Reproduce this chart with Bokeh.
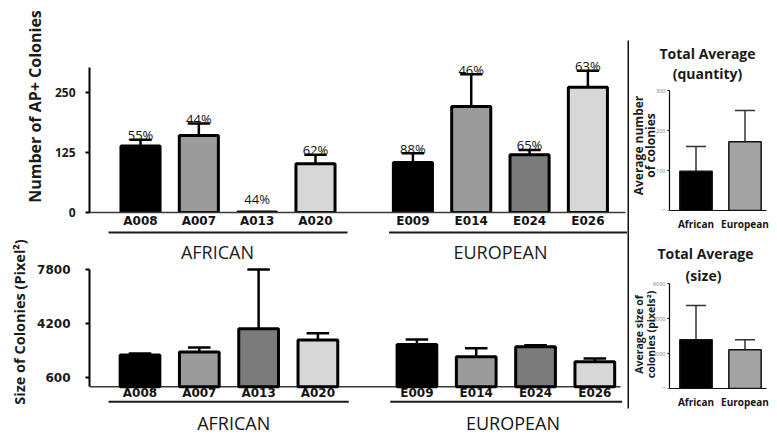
import numpy as np
from bokeh.plotting import figure
from bokeh.layouts import row, column
from bokeh.models import (ColumnDataSource, Range1d, FixedTicker, Whisker, TeeHead)
from bokeh.embed import file_html
from bokeh.resources import INLINE
from bokeh.core.properties import value

# ---------------- data ----------------
african_lines = ["A008", "A007", "A013", "A020"]
european_lines = ["E009", "E014", "E024", "E026"]
group_names = ["AFRICAN", "EUROPEAN"]
line_colors = ["#000000", "#9b9b9b", "#7b7b7b", "#d7d7d7"]

ap_african = [138, 160, 1, 101]
ap_african_err = [13, 25, 0, 19]
ap_european = [104, 220, 120, 260]
ap_european_err = [19, 67, 10, 34]
pct_african = ["55%", "44%", "44%", "62%"]
pct_european = ["88%", "46%", "65%", "63%"]

size_african = [2100, 2310, 3840, 3100]
size_african_err = [100, 290, 3940, 440]
size_european = [2800, 1990, 2660, 1660]
size_european_err = [340, 560, 90, 220]

origins = ["African", "European"]
origin_colors = ["#000000", "#a3a3a3"]
avg_count = [98, 172]
avg_count_err = [62, 78]
avg_size = [2780, 2210]
avg_size_err = [1960, 570]

count_ticks = [0, 125, 250]
size_ticks = [600, 4200, 7800]
avg_count_ticks = [0, 100, 200, 300]
avg_size_ticks = [0, 2000, 4000, 6000]


# ---------------- layout helpers ----------------
GAP = 0.67
BAR_W = 0.67
CAP_W = 0.38
n = len(african_lines)
xa = np.arange(n, dtype=float)
xe = xa + n + GAP
xs = np.concatenate([xa, xe])
line_labels = african_lines + european_lines
bar_cols = line_colors * 2
group_x = [float(xa.mean()), float(xe.mean())]
LEFT_W = 627
FRAME_L = 89


def mapper_x(c0, unit):
    return lambda px: (px - c0) / unit


def mapper_y(base, upp):
    return lambda px: (base - px) * upp


def left_fig(top_px, bottom_px, frame_bottom_px, fx, fy):
    p = figure(width=LEFT_W, height=bottom_px - top_px,
               x_range=Range1d(fx(FRAME_L), fx(LEFT_W)),
               y_range=Range1d(fy(frame_bottom_px), fy(top_px)),
               min_border_left=FRAME_L, min_border_right=0, min_border_top=0,
               min_border_bottom=bottom_px - frame_bottom_px,
               toolbar_location=None, output_backend="svg")
    p.grid.grid_line_color = None
    p.outline_line_color = None
    return p


def style_left_axis(ax, ticks, bound_top, label, label_size, label_standoff,
                    tick_font, tick_size, tick_standoff):
    ax.ticker = FixedTicker(ticks=ticks)
    ax.bounds = (0, bound_top)
    ax.axis_label = label
    ax.axis_label_text_font = "Open Sans"
    ax.axis_label_text_font_size = label_size
    ax.axis_label_text_font_style = "bold"
    ax.axis_label_text_color = "#1a1a1a"
    ax.axis_label_standoff = label_standoff
    ax.major_label_text_font = tick_font
    ax.major_label_text_font_size = tick_size
    ax.major_label_text_font_style = "bold"
    ax.major_label_text_color = "#1a1a1a"
    ax.major_label_standoff = tick_standoff
    ax.major_tick_out = 4
    ax.major_tick_in = 0
    ax.major_tick_line_width = 2
    ax.minor_tick_line_color = None
    ax.axis_line_width = 2


def style_bottom_axis(ax, ticks, labels, font, size, style, standoff, line_color,
                      line_width=1.5):
    ax.ticker = FixedTicker(ticks=[float(t) for t in ticks])
    ax.major_label_overrides = {float(t): lab for t, lab in zip(ticks, labels)}
    ax.major_tick_line_color = None
    ax.major_tick_out = 0
    ax.major_tick_in = 0
    ax.minor_tick_line_color = None
    ax.major_label_text_font = font
    ax.major_label_text_font_size = size
    ax.major_label_text_font_style = style
    ax.major_label_text_color = "#141414"
    ax.major_label_standoff = standoff
    ax.axis_line_color = line_color
    ax.axis_line_width = line_width


def draw_bars(p, means, errs):
    means = np.asarray(means, dtype=float)
    errs = np.asarray(errs, dtype=float)
    upper = means + errs
    src = ColumnDataSource(dict(x=xs, top=means, color=bar_cols))
    keep = errs > 0
    p.segment(x0=xs[keep], y0=means[keep], x1=xs[keep], y1=upper[keep],
              line_color="#000000", line_width=2.5)
    p.segment(x0=xs[keep] - CAP_W / 2, y0=upper[keep], x1=xs[keep] + CAP_W / 2,
              y1=upper[keep], line_color="#000000", line_width=2.5)
    p.vbar(x="x", top="top", bottom=0, width=BAR_W, fill_color="color",
           line_color="#000000", line_width=3, source=src)
    return upper


def underline(p, y, pads):
    p.segment(x0=[xa[0] - pads[0], xe[0] - pads[2]], y0=[y, y],
              x1=[xa[-1] + pads[1], xe[-1] + pads[3]], y1=[y, y],
              line_color="#1a1a1a", line_width=2)


# ---------------- top left: number of AP+ colonies ----------------
tx = mapper_x(140.0, 58.33)
ty = mapper_y(213.0, 125 / 60.5)
tl = left_fig(0, 230, 213, tx, ty)
style_left_axis(tl.yaxis[0], count_ticks, 300, "Number of AP+ Colonies",
                "16px", 6, "Open Sans", "12px", 10)
style_bottom_axis(tl.xaxis[0], xs, line_labels, "DejaVu Sans", "12px", "bold",
                  1, "#3a3a3a")
tl.xaxis[0].bounds = (tx(FRAME_L), tx(625))
upper_tl = draw_bars(tl, ap_african + ap_european, ap_african_err + ap_european_err)
tl.text(x=xs, y=np.maximum(upper_tl, ty(203.7)), text=pct_african + pct_european,
        text_align="center", text_baseline="alphabetic", y_offset=-4.5,
        text_font=value("Open Sans"), text_font_size="13px", text_color="#111111")

# ---------------- bottom left: size of colonies ----------------
bx = mapper_x(139.5, 59.3)
by = mapper_y(388.0, 7800 / 119)
bl = left_fig(230, 437, 415, bx, by)
style_left_axis(bl.yaxis[0], size_ticks, 7800, "Size of Colonies (Pixel²)",
                "14.5px", 5, "DejaVu Sans", "12px", 15)
style_bottom_axis(bl.xaxis[0], np.add(group_x, [0.08, 0.12]), group_names,
                  "Open Sans", "18px", "normal", -3, None)
bl.segment(x0=[bx(FRAME_L)], y0=[0], x1=[bx(620)], y1=[0],
           line_color="#3a3a3a", line_width=1.5)
draw_bars(bl, size_african + size_european, size_african_err + size_european_err)
bl.text(x=xs, y=np.zeros(len(xs)), text=line_labels, text_align="center",
        text_baseline="middle", y_offset=6.5, text_font=value("DejaVu Sans"),
        text_font_style="bold", text_font_size="12px", text_color="#141414")
# group underlines and names belonging to the upper chart
underline(bl, by(232), (0.53, 0.5, 0.47, 0.55))
bl.text(x=group_x, y=[by(252)] * 2, text=group_names, text_align="center",
        text_baseline="middle", x_offset=[-11.5, -5.4],
        text_font=value("Open Sans"), text_font_size="18px", text_color="#1a1a1a")
# group underlines of the lower chart
underline(bl, by(403), (0.53, 0.52, 0.45, 0.46))

# ---------------- vertical divider ----------------
div = figure(width=2, height=437, x_axis_location=None, y_axis_location=None,
             min_border_left=0, min_border_right=0, min_border_top=40,
             min_border_bottom=29, background_fill_color="#111111",
             border_fill_color="#ffffff", outline_line_color=None,
             toolbar_location=None, output_backend="svg")
div.grid.grid_line_color = None

# ---------------- right: total averages ----------------
rx = mapper_x(695.5, 49.0)
ox = np.arange(len(origins), dtype=float)
RIGHT_L = 629


def right_fig(top_px, bottom_px, base_px, upp, vals, errs, ticks, titles,
              title_pos, label_lines, label_size, label_cy):
    ry = mapper_y(base_px, upp)
    p = figure(width=776 - RIGHT_L, height=bottom_px - top_px,
               x_range=Range1d(rx(RIGHT_L), rx(769)),
               y_range=Range1d(ry(base_px), ry(top_px)),
               min_border_left=0, min_border_right=7, min_border_top=0,
               min_border_bottom=bottom_px - base_px,
               toolbar_location=None, output_backend="svg")
    p.grid.grid_line_color = None
    p.outline_line_color = None

    p.vbar(x=ox, top=vals, width=0.66, fill_color=origin_colors,
           line_color="#111111", line_width=1.5)
    src = ColumnDataSource(dict(base=ox, lower=vals, upper=np.add(vals, errs)))
    w = Whisker(base="base", lower="lower", upper="upper", source=src,
                dimension="height", line_color="#333333", line_width=1.5,
                upper_head=TeeHead(size=20, line_color="#333333", line_width=1.5),
                lower_head=None)
    p.add_layout(w)

    # titles
    p.text(x=[rx(c) for c, _ in title_pos], y=[ry(yy) for _, yy in title_pos],
           text=titles, text_align="center", text_baseline="middle",
           text_font=value("Open Sans"), text_font_size="14px",
           text_font_style="bold", text_color="#1a1a1a")
    # axis title (two lines)
    p.text(x=[rx(638), rx(650)], y=[ry(label_cy)] * 2, text=label_lines,
           angle=np.pi / 2, text_align="center", text_baseline="middle",
           text_font=value("Open Sans"), text_font_size=label_size,
           text_font_style="bold", text_color="#1a1a1a")

    ay = p.yaxis[0]
    ay.fixed_location = rx(669)
    ay.bounds = (0, ticks[-1])
    ay.ticker = FixedTicker(ticks=ticks)
    ay.major_label_text_font = "Open Sans"
    ay.major_label_text_font_size = "5.5px"
    ay.major_label_text_color = "#777777"
    ay.major_label_standoff = 2
    ay.major_tick_out = 2
    ay.major_tick_in = 0
    ay.minor_tick_line_color = None
    ay.axis_line_width = 1.2

    style_bottom_axis(p.xaxis[0], ox, origins, "Open Sans", "10px", "bold", 6,
                      "#111111", 1.2)
    p.xaxis[0].bounds = (rx(669), rx(766))
    return p


tr = right_fig(0, 237, 210, 2.5, avg_count, avg_count_err, avg_count_ticks,
               ["Total Average", "(quantity)"], [(707, 53), (707, 73)],
               ["Average number", "of colonies"], "12px", 145)
br = right_fig(237, 437, 388, 6000 / 105, avg_size, avg_size_err, avg_size_ticks,
               ["Total Average", "(size)"], [(705, 253), (703, 275)],
               ["Average size of", "colonies (pixels²)"], "10.5px", 334)

layout = row(column(tl, bl), div, column(tr, br))
with open("out.html", "w") as f:
    f.write(file_html(layout, INLINE))
